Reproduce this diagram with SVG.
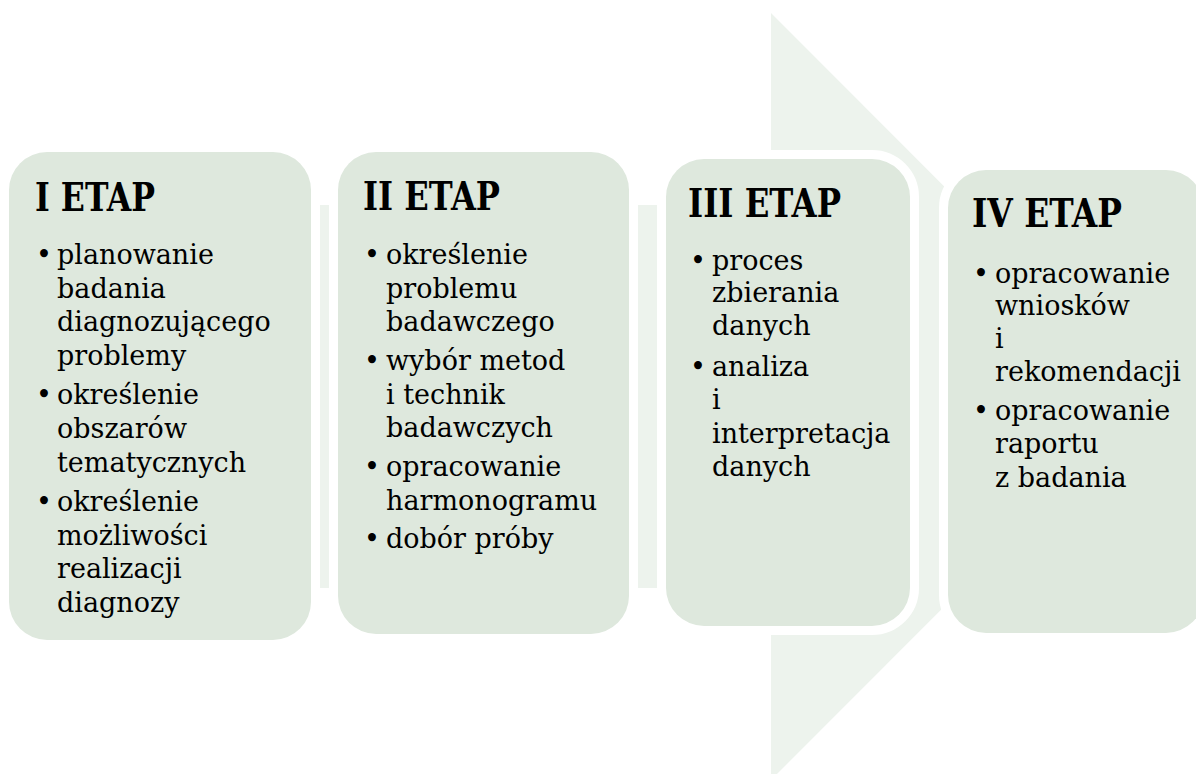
<svg xmlns="http://www.w3.org/2000/svg" width="1196" height="774" viewBox="0 0 1196 774">
<style>
.box{fill:#dee8dd;stroke:#ffffff;stroke-width:18;paint-order:stroke}
.h{font-family:"DejaVu Serif","Liberation Serif",serif;font-weight:bold;font-size:39px;fill:#000}
.t{font-family:"DejaVu Serif","Liberation Serif",serif;font-size:27px;fill:#000}
</style>
<rect width="1196" height="774" fill="#ffffff"/>
<g id="arrow">
<path d="M0 205 H771 V13 L1154 396.5 L771 780 V588 H0 Z" fill="#edf3ed"/>
</g>
<g id="connectors"></g>
<g id="stage1">
<rect class="box" x="9" y="152" width="302" height="488" rx="38"/>
<text class="h" x="35" y="211" textLength="120" lengthAdjust="spacingAndGlyphs">I ETAP</text>
<text class="t" x="36" y="264">•</text>
<text class="t" x="57" y="264">planowanie</text>
<text class="t" x="57" y="297.6">badania</text>
<text class="t" x="57" y="331.2">diagnozującego</text>
<text class="t" x="57" y="364.8">problemy</text>
<text class="t" x="36" y="404.4">•</text>
<text class="t" x="57" y="404.4">określenie</text>
<text class="t" x="57" y="438">obszarów</text>
<text class="t" x="57" y="471.6">tematycznych</text>
<text class="t" x="36" y="511.2">•</text>
<text class="t" x="57" y="511.2">określenie</text>
<text class="t" x="57" y="544.8">możliwości</text>
<text class="t" x="57" y="578.4">realizacji</text>
<text class="t" x="57" y="612">diagnozy</text>
</g>
<g id="stage2">
<rect class="box" x="338" y="152" width="291" height="482" rx="38"/>
<text class="h" x="363" y="210" textLength="137" lengthAdjust="spacingAndGlyphs">II ETAP</text>
<text class="t" x="364" y="264">•</text>
<text class="t" x="386" y="264">określenie</text>
<text class="t" x="386" y="297.6">problemu</text>
<text class="t" x="386" y="331.2">badawczego</text>
<text class="t" x="364" y="370">•</text>
<text class="t" x="386" y="370">wybór metod</text>
<text class="t" x="386" y="403.6">i technik</text>
<text class="t" x="386" y="437.2">badawczych</text>
<text class="t" x="364" y="476">•</text>
<text class="t" x="386" y="476">opracowanie</text>
<text class="t" x="386" y="509.6">harmonogramu</text>
<text class="t" x="364" y="548">•</text>
<text class="t" x="386" y="548">dobór próby</text>
</g>
<g id="stage3">
<rect class="box" x="666" y="159" width="244" height="467" rx="38"/>
<text class="h" x="688" y="217" textLength="153" lengthAdjust="spacingAndGlyphs">III ETAP</text>
<text class="t" x="690" y="270">•</text>
<text class="t" x="712" y="270">proces</text>
<text class="t" x="712" y="302">zbierania</text>
<text class="t" x="712" y="335">danych</text>
<text class="t" x="690" y="376">•</text>
<text class="t" x="712" y="376">analiza</text>
<text class="t" x="712" y="409">i</text>
<text class="t" x="712" y="443">interpretacja</text>
<text class="t" x="712" y="476">danych</text>
</g>
<g id="stage4">
<rect class="box" x="948" y="170" width="256" height="463" rx="38"/>
<text class="h" x="972" y="227" textLength="150" lengthAdjust="spacingAndGlyphs">IV ETAP</text>
<text class="t" x="973" y="283">•</text>
<text class="t" x="995" y="283">opracowanie</text>
<text class="t" x="995" y="315">wniosków</text>
<text class="t" x="995" y="348">i</text>
<text class="t" x="995" y="381">rekomendacji</text>
<text class="t" x="973" y="420">•</text>
<text class="t" x="995" y="420">opracowanie</text>
<text class="t" x="995" y="453">raportu</text>
<text class="t" x="995" y="487">z badania</text>
</g>
</svg>
